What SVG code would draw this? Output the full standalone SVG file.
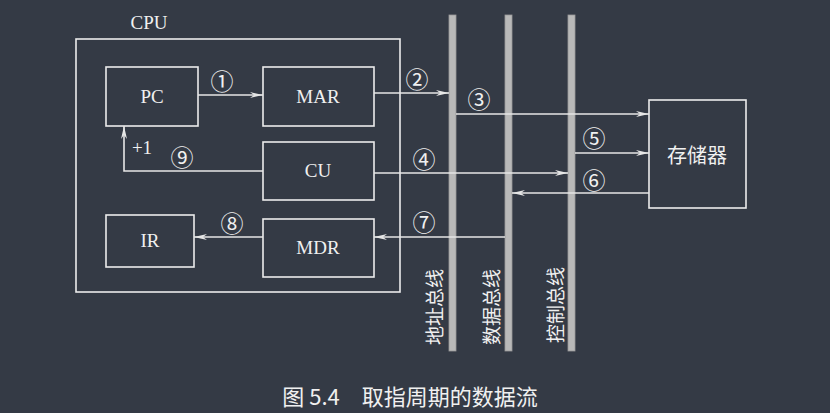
<svg xmlns="http://www.w3.org/2000/svg" width="830" height="413" viewBox="0 0 830 413">
<style>
.bg{fill:#343a45}
.box{fill:none;stroke:#ececec;stroke-width:1.6}
.bus{fill:#b9b9b9;stroke:#9a9a9a;stroke-width:0.8}
.ln{fill:none;stroke:#e6e6e6;stroke-width:1.6}
.t{font-family:"Liberation Serif","Noto Sans CJK SC",serif;fill:#f0f0f0;text-anchor:middle;dominant-baseline:central}
.lbl{font-size:19px}
.num{font-size:23px;font-family:"Noto Sans CJK SC","DejaVu Sans",sans-serif}
.cjk{font-family:"Noto Sans CJK SC",sans-serif;fill:#f0f0f0;text-anchor:middle;dominant-baseline:central}
</style>
<defs>
<marker id="ah" markerWidth="14" markerHeight="8" refX="13" refY="4" orient="auto" markerUnits="userSpaceOnUse">
<path d="M0,1 L13,4 L0,7 L4,4 Z" fill="#e6e6e6"/>
</marker>
</defs>
<rect class="bg" x="0" y="0" width="830" height="413"/>

<g id="cpu">
<rect class="box" x="76" y="39" width="324" height="253"/>
<text class="t lbl" x="149" y="22">CPU</text>
</g>
<g id="pc">
<rect class="box" x="106" y="67" width="92" height="59"/>
<text class="t lbl" x="152" y="96">PC</text>
</g>
<g id="mar">
<rect class="box" x="263" y="67" width="111" height="59"/>
<text class="t lbl" x="318" y="96">MAR</text>
</g>
<g id="cu">
<rect class="box" x="263" y="142" width="111" height="58"/>
<text class="t lbl" x="318" y="170">CU</text>
</g>
<g id="ir">
<rect class="box" x="106" y="215" width="88" height="52"/>
<text class="t lbl" x="150" y="240">IR</text>
</g>
<g id="mdr">
<rect class="box" x="263" y="219" width="111" height="58"/>
<text class="t lbl" x="318" y="247">MDR</text>
</g>
<g id="memory">
<rect class="box" x="649" y="100" width="97" height="108"/>
<text class="cjk" x="697" y="154" font-size="20">存储器</text>
</g>
<g id="address-bus">
<rect class="bus" x="449" y="15" width="7" height="336"/>
<text class="cjk" font-size="19" transform="translate(433,307) rotate(-90)">地址总线</text>
</g>
<g id="data-bus">
<rect class="bus" x="505" y="15" width="7" height="336"/>
<text class="cjk" font-size="19" transform="translate(490,307) rotate(-90)">数据总线</text>
</g>
<g id="control-bus">
<rect class="bus" x="568" y="15" width="7" height="336"/>
<text class="cjk" font-size="19" transform="translate(554,305) rotate(-90)">控制总线</text>
</g>

<g id="connectors">
<line class="ln" x1="198" y1="95" x2="263" y2="95" marker-end="url(#ah)"/>
<line class="ln" x1="374" y1="93" x2="449" y2="93" marker-end="url(#ah)"/>
<line class="ln" x1="456" y1="114" x2="649" y2="114" marker-end="url(#ah)"/>
<line class="ln" x1="374" y1="173" x2="568" y2="173" marker-end="url(#ah)"/>
<line class="ln" x1="575" y1="153" x2="649" y2="153" marker-end="url(#ah)"/>
<line class="ln" x1="649" y1="193" x2="512" y2="193" marker-end="url(#ah)"/>
<line class="ln" x1="505" y1="237" x2="374" y2="237" marker-end="url(#ah)"/>
<line class="ln" x1="263" y1="237" x2="194" y2="237" marker-end="url(#ah)"/>
<polyline class="ln" points="263,171 124,171 124,126" marker-end="url(#ah)"/>
<text class="t num" x="222" y="80">①</text>
<text class="t num" x="417" y="78">②</text>
<text class="t num" x="479" y="98">③</text>
<text class="t num" x="424" y="158">④</text>
<text class="t num" x="594" y="137">⑤</text>
<text class="t num" x="594" y="179">⑥</text>
<text class="t num" x="424" y="221">⑦</text>
<text class="t num" x="232" y="222">⑧</text>
<text class="t num" x="182" y="156">⑨</text>
<text class="t lbl" x="142" y="147">+1</text>
</g>

<text class="cjk" x="410" y="395" font-size="22">图 5.4　取指周期的数据流</text>
</svg>
